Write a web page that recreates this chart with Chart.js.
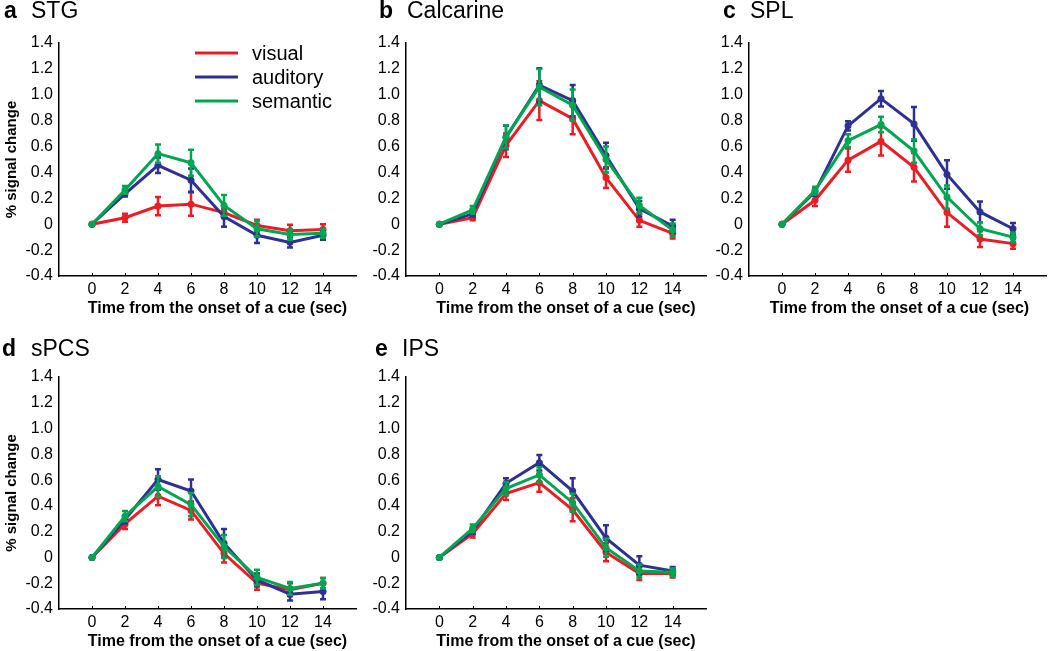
<!DOCTYPE html>
<html>
<head>
<meta charset="utf-8">
<script src="https://cdn.jsdelivr.net/npm/chart.js@4.4.0/dist/chart.umd.min.js"></script>
<style>
  html, body { margin: 0; padding: 0; background: #fff; }
  body { width: 1050px; height: 651px; position: relative; overflow: hidden; }
  .panel { position: absolute; }
  canvas { display: block; }
</style>
</head>
<body>
<div class="panel" style="left:0px;top:0px"><canvas id="chartA" width="360" height="320"></canvas></div>
<div class="panel" style="left:360px;top:0px"><canvas id="chartB" width="350" height="320"></canvas></div>
<div class="panel" style="left:710px;top:0px"><canvas id="chartC" width="340" height="320"></canvas></div>
<div class="panel" style="left:0px;top:320px"><canvas id="chartD" width="360" height="331"></canvas></div>
<div class="panel" style="left:360px;top:320px"><canvas id="chartE" width="350" height="331"></canvas></div>

<script>
// time axis (sec) and y tick values
const timePoints = [0, 2, 4, 6, 8, 10, 12, 14];
const yTickValues = [-0.4, -0.2, 0, 0.2, 0.4, 0.6, 0.8, 1.0, 1.2, 1.4];
const seriesNames = ["visual", "auditory", "semantic"];

// a  STG
const stgVisual      = [0, 0.05, 0.14, 0.155, 0.09, -0.01, -0.05, -0.04];
const stgVisualErr   = [0, 0.03, 0.07, 0.09, 0.03, 0.045, 0.045, 0.04];
const stgAuditory    = [0, 0.235, 0.455, 0.34, 0.06, -0.085, -0.14, -0.085];
const stgAuditoryErr = [0, 0.02, 0.06, 0.09, 0.08, 0.06, 0.04, 0.035];
const stgSemantic    = [0, 0.265, 0.545, 0.475, 0.145, -0.035, -0.08, -0.07];
const stgSemanticErr = [0, 0.03, 0.07, 0.1, 0.08, 0.06, 0.04, 0.035];

// b  Calcarine
const calVisual      = [0, 0.05, 0.61, 0.955, 0.815, 0.36, 0.03, -0.07];
const calVisualErr   = [0, 0.02, 0.09, 0.15, 0.12, 0.08, 0.05, 0.04];
const calAuditory    = [0, 0.08, 0.67, 1.075, 0.955, 0.53, 0.12, -0.015];
const calAuditoryErr = [0, 0.02, 0.09, 0.13, 0.12, 0.1, 0.06, 0.05];
const calSemantic    = [0, 0.11, 0.675, 1.06, 0.92, 0.5, 0.145, -0.045];
const calSemanticErr = [0, 0.03, 0.09, 0.14, 0.12, 0.1, 0.06, 0.05];

// c  SPL
const splVisual      = [0, 0.185, 0.495, 0.64, 0.44, 0.09, -0.115, -0.15];
const splVisualErr   = [0, 0.045, 0.09, 0.11, 0.11, 0.11, 0.06, 0.04];
const splAuditory    = [0, 0.25, 0.76, 0.97, 0.775, 0.385, 0.095, -0.035];
const splAuditoryErr = [0, 0.03, 0.035, 0.06, 0.13, 0.11, 0.08, 0.045];
const splSemantic    = [0, 0.26, 0.645, 0.77, 0.565, 0.21, -0.035, -0.1];
const splSemanticErr = [0, 0.03, 0.05, 0.06, 0.09, 0.09, 0.05, 0.035];

// d  sPCS
const spcsVisual      = [0, 0.26, 0.475, 0.365, 0.03, -0.2, -0.25, -0.2];
const spcsVisualErr   = [0, 0.04, 0.07, 0.07, 0.07, 0.05, 0.05, 0.04];
const spcsAuditory    = [0, 0.295, 0.605, 0.515, 0.11, -0.175, -0.285, -0.265];
const spcsAuditoryErr = [0, 0.03, 0.08, 0.09, 0.11, 0.05, 0.05, 0.06];
const spcsSemantic    = [0, 0.32, 0.55, 0.41, 0.085, -0.155, -0.24, -0.2];
const spcsSemanticErr = [0, 0.04, 0.08, 0.09, 0.09, 0.06, 0.05, 0.04];

// e  IPS
const ipsVisual      = [0, 0.185, 0.495, 0.58, 0.37, 0.04, -0.125, -0.125];
const ipsVisualErr   = [0, 0.03, 0.05, 0.07, 0.09, 0.07, 0.05, 0.03];
const ipsAuditory    = [0, 0.205, 0.575, 0.735, 0.515, 0.15, -0.06, -0.105];
const ipsAuditoryErr = [0, 0.02, 0.04, 0.06, 0.1, 0.1, 0.07, 0.03];
const ipsSemantic    = [0, 0.225, 0.535, 0.64, 0.425, 0.075, -0.105, -0.115];
const ipsSemanticErr = [0, 0.03, 0.05, 0.06, 0.07, 0.07, 0.05, 0.03];

const FONT = '"Liberation Sans", Arial, Helvetica, sans-serif';
const seriesColors = ["#ed1c24", "#2e3192", "#00a651"];
const xTitleText = "Time from the onset of a cue (sec)";

// draws vertical error bars with small caps after each line
const errorBarPlugin = {
    id: "errorBars",
    afterDatasetDraw(chart, args) {
        const ds = chart.data.datasets[args.index];
        if (!ds.errors) return;
        const xs = chart.scales.x, ys = chart.scales.y;
        const ctx = chart.ctx;
        ctx.save();
        ctx.strokeStyle = ds.borderColor;
        ctx.lineWidth = 2.5;
        ds.data.forEach((p, i) => {
            const e = ds.errors[i];
            if (!e) return;
            const px = xs.getPixelForValue(p.x);
            const top = ys.getPixelForValue(p.y + e);
            const bot = ys.getPixelForValue(p.y - e);
            ctx.beginPath();
            ctx.moveTo(px, top); ctx.lineTo(px, bot);
            ctx.moveTo(px - 3, top); ctx.lineTo(px + 3, top);
            ctx.moveTo(px - 3, bot); ctx.lineTo(px + 3, bot);
            ctx.stroke();
        });
        ctx.restore();
    }
};

// small inward tick marks on the time axis + the time axis title
const timeAxisPlugin = {
    id: "timeAxis",
    afterDraw(chart, args, opts) {
        const xs = chart.scales.x;
        const ctx = chart.ctx;
        const area = chart.chartArea;
        ctx.save();
        ctx.strokeStyle = "#000";
        ctx.lineWidth = 1;
        timePoints.forEach(t => {
            const px = Math.round(xs.getPixelForValue(t)) + 0.5;
            ctx.beginPath();
            ctx.moveTo(px, area.bottom);
            ctx.lineTo(px, area.bottom - 3);
            ctx.stroke();
        });
        ctx.fillStyle = "#000";
        ctx.font = "bold 16px " + FONT;
        ctx.textAlign = "center";
        ctx.textBaseline = "middle";
        ctx.fillText(xTitleText, (area.left + area.right) / 2 + (opts.shift || 0), area.bottom + 33);
        ctx.restore();
    }
};

// "a  STG" style panel heading
const panelLabelPlugin = {
    id: "panelLabel",
    afterDraw(chart, args, opts) {
        if (!opts || !opts.letter) return;
        const ctx = chart.ctx;
        ctx.save();
        ctx.fillStyle = "#000";
        ctx.textBaseline = "alphabetic";
        ctx.textAlign = "left";
        ctx.font = "bold 23px " + FONT;
        ctx.fillText(opts.letter, opts.letterX, opts.baseline);
        ctx.font = "23px " + FONT;
        ctx.fillText(opts.name, opts.nameX, opts.baseline);
        ctx.restore();
    }
};

// line legend placed inside the plot (panel a only)
const lineLegendPlugin = {
    id: "lineLegend",
    afterDraw(chart, args, opts) {
        if (!opts || !opts.show) return;
        const ctx = chart.ctx;
        ctx.save();
        ctx.font = "20px " + FONT;
        ctx.textBaseline = "middle";
        ctx.fillStyle = "#000";
        chart.data.datasets.forEach((ds, i) => {
            const y = opts.y + i * opts.gap;
            ctx.strokeStyle = ds.borderColor;
            ctx.lineWidth = 3;
            ctx.beginPath();
            ctx.moveTo(opts.x, y);
            ctx.lineTo(opts.x + opts.lineLen, y);
            ctx.stroke();
            ctx.fillText(ds.label, opts.textX, y + 1);
        });
        ctx.restore();
    }
};

function toPoints(values) {
    return timePoints.map((t, i) => ({ x: t, y: values[i] }));
}

function formatY(v) {
    if (Math.abs(v) < 1e-9) return "0";
    return (Math.round(v * 10) / 10).toFixed(1);
}

function renderPanel(cfg) {
    const canvas = document.getElementById(cfg.id);
    const ctx = canvas.getContext("2d");
    const datasets = cfg.series.map((s, i) => ({
        label: seriesNames[i],
        data: toPoints(s.values),
        errors: s.errors,
        borderColor: seriesColors[i],
        backgroundColor: seriesColors[i],
        pointBackgroundColor: seriesColors[i],
        pointBorderWidth: 0,
        pointRadius: 3.5,
        borderWidth: 3,
        tension: 0,
        order: 2 - i
    }));

    return new Chart(ctx, {
        type: "line",
        data: { datasets },
        options: {
            responsive: false,
            animation: false,
            devicePixelRatio: 1,
            layout: { padding: cfg.padding },
            plugins: {
                legend: { display: false },
                tooltip: { enabled: false },
                panelLabel: cfg.label,
                lineLegend: cfg.legend || { show: false },
                timeAxis: { shift: cfg.xTitleShift }
            },
            scales: {
                x: {
                    type: "linear",
                    min: -2,
                    max: 16,
                    afterBuildTicks: s => { s.ticks = timePoints.map(v => ({ value: v })); },
                    ticks: { color: "#000", font: { size: 16, family: FONT }, padding: 4, maxRotation: 0, autoSkip: false },
                    grid: { display: false, drawTicks: false },
                    border: { display: true, color: "#000", width: 1.5 },
                    title: { display: false },
                    afterFit: s => { s.height = cfg.xAxisHeight; }
                },
                y: {
                    type: "linear",
                    min: -0.4,
                    max: 1.4,
                    afterBuildTicks: s => { s.ticks = yTickValues.map(v => ({ value: v })); },
                    ticks: { color: "#000", font: { size: 16, family: FONT }, padding: 6, callback: v => formatY(v) },
                    grid: { display: false, drawTicks: false },
                    border: { display: true, color: "#000", width: 1.5 },
                    title: {
                        display: cfg.yTitle,
                        text: "% signal change",
                        color: "#000",
                        font: { size: 15, weight: "bold", family: FONT },
                        padding: { top: 3, bottom: 0 }
                    },
                    afterFit: s => { s.width = cfg.yWidth; }
                }
            }
        },
        plugins: [errorBarPlugin, timeAxisPlugin, panelLabelPlugin, lineLegendPlugin]
    });
}

renderPanel({
    id: "chartA",
    series: [
        { values: stgVisual, errors: stgVisualErr },
        { values: stgAuditory, errors: stgAuditoryErr },
        { values: stgSemantic, errors: stgSemanticErr }
    ],
    padding: { left: 0, top: 43, right: 2, bottom: 0 },
    yWidth: 59, xAxisHeight: 44, xTitleShift: 10, yTitle: true,
    label: { letter: "a", name: "STG", letterX: 4, nameX: 31, baseline: 18 },
    legend: { show: true, x: 195, y: 53, gap: 24, lineLen: 43, textX: 252 }
});

renderPanel({
    id: "chartB",
    series: [
        { values: calVisual, errors: calVisualErr },
        { values: calAuditory, errors: calAuditoryErr },
        { values: calSemantic, errors: calSemanticErr }
    ],
    padding: { left: 0, top: 43, right: 3, bottom: 0 },
    yWidth: 46, xAxisHeight: 44, xTitleShift: 10, yTitle: false,
    label: { letter: "b", name: "Calcarine", letterX: 19, nameX: 47, baseline: 18 }
});

renderPanel({
    id: "chartC",
    series: [
        { values: splVisual, errors: splVisualErr },
        { values: splAuditory, errors: splAuditoryErr },
        { values: splSemantic, errors: splSemanticErr }
    ],
    padding: { left: 0, top: 43, right: 0, bottom: 0 },
    yWidth: 39, xAxisHeight: 44, xTitleShift: 2, yTitle: false,
    label: { letter: "c", name: "SPL", letterX: 13, nameX: 40, baseline: 18 }
});

renderPanel({
    id: "chartD",
    series: [
        { values: spcsVisual, errors: spcsVisualErr },
        { values: spcsAuditory, errors: spcsAuditoryErr },
        { values: spcsSemantic, errors: spcsSemanticErr }
    ],
    padding: { left: 0, top: 57, right: 2, bottom: 0 },
    yWidth: 59, xAxisHeight: 42, xTitleShift: 10, yTitle: true,
    label: { letter: "d", name: "sPCS", letterX: 2, nameX: 31, baseline: 36 }
});

renderPanel({
    id: "chartE",
    series: [
        { values: ipsVisual, errors: ipsVisualErr },
        { values: ipsAuditory, errors: ipsAuditoryErr },
        { values: ipsSemantic, errors: ipsSemanticErr }
    ],
    padding: { left: 0, top: 57, right: 3, bottom: 0 },
    yWidth: 46, xAxisHeight: 42, xTitleShift: 10, yTitle: false,
    label: { letter: "e", name: "IPS", letterX: 15, nameX: 42, baseline: 36 }
});
</script>
</body>
</html>
